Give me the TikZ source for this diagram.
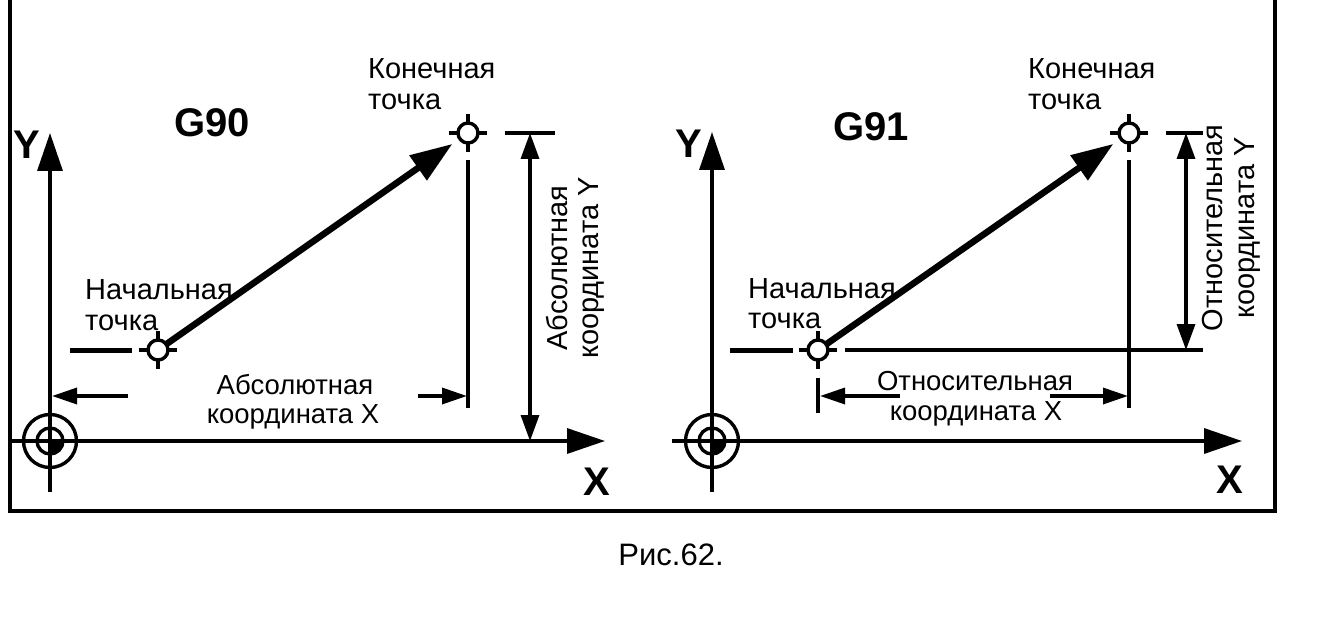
\documentclass[tikz,border=0pt]{standalone}
\usepackage{fontspec}
\setmainfont{Liberation Sans}
\usetikzlibrary{arrows.meta}
\begin{document}
\begin{tikzpicture}[x=1pt,y=-1pt,
  ln/.style={line width=3.4pt},
  frm/.style={line width=4pt},
  axis/.style={line width=3.4pt,-{Triangle[length=38pt,width=25pt]}},
  move/.style={line width=6.5pt,-{Triangle[length=42pt,width=29pt]},shorten >=9pt},
  dimarr/.style={line width=3.4pt,-{Triangle[length=25pt,width=16pt]}},
  dimdbl/.style={line width=3.4pt,{Triangle[length=26pt,width=18pt]}-{Triangle[length=26pt,width=18pt]}},
  ptc/.style={circle,draw,line width=3.4pt,fill=white,minimum size=20pt,inner sep=0pt,outer sep=0pt},
  lbl/.style={inner sep=0pt,font=\fontsize{29}{32}\selectfont},
  dlbl/.style={inner sep=0pt,font=\fontsize{27.5}{31}\selectfont},
  big/.style={inner sep=0pt,font=\bfseries\fontsize{40}{42}\selectfont},
]
\useasboundingbox (0,0) rectangle (1335,631);
% frame
\draw[frm] (10,-5) -- (10,511) -- (1275,511) -- (1275,-5);

% ================= left panel (G90) =================
\coordinate (o1) at (50,441);
\draw[axis] (10,441) -- (605,441);
\draw[axis] (50,492) -- (50,133);
\draw[ln] (o1) circle[radius=26.5];
\draw[ln] (o1) circle[radius=13];
\begin{scope}
  \clip (o1) circle[radius=13];
  \fill (o1) rectangle ++(15,15);
\end{scope}
\node[big] (Y1) at (27,145) {Y};
\node[big] (X1) at (597,482) {X};
\node[big] (G1) at (212,123) {G90};

\node[ptc] (s1) at (158,350) {};
\node[ptc] (e1) at (468,133) {};
\foreach \n in {s1,e1}{
  \draw[ln] (\n.north) -- ++(0,-9);
  \draw[ln] (\n.south) -- ++(0,9);
  \draw[ln] (\n.west) -- ++(-9,0);
  \draw[ln] (\n.east) -- ++(9,0);
}
\draw[move] (s1) -- (e1);
\draw[line width=5pt] (70,350) -- (132,350);
\draw[ln] (468,160) -- (468,408);
\draw[ln] (505,133) -- (555,133);
\draw[dimdbl] (530,133) -- (530,441);
\draw[dimarr] (128,396) -- (52,396);
\draw[dimarr] (418,396) -- (467,396);

\node[lbl,anchor=base west] (k1a) at (368,79) {Конечная};
\node[lbl,anchor=base west] (k1b) at (368,110) {точка};
\node[lbl,anchor=base west] (n1a) at (85,299) {Начальная};
\node[lbl,anchor=base west] (n1b) at (85,330) {точка};
\node[dlbl,anchor=base] (ax1a) at (295,394) {Абсолютная};
\node[dlbl,anchor=base] (ax1b) at (293,423) {координата X};
\node[lbl,anchor=base,rotate=90] (ay1a) at (567,268) {Абсолютная};
\node[lbl,anchor=base,rotate=90] (ay1b) at (598,268) {координата Y};

% ================= right panel (G91) =================
\coordinate (o2) at (712,441);
\draw[axis] (672,441) -- (1242,441);
\draw[axis] (712,492) -- (712,132);
\draw[ln] (o2) circle[radius=26.5];
\draw[ln] (o2) circle[radius=13];
\begin{scope}
  \clip (o2) circle[radius=13];
  \fill (o2) rectangle ++(15,15);
\end{scope}
\node[big] (Y2) at (689,144) {Y};
\node[big] (X2) at (1230,480) {X};
\node[big] (G2) at (871,127) {G91};

\node[ptc] (s2) at (818,350) {};
\node[ptc] (e2) at (1129,133) {};
\foreach \n in {s2,e2}{
  \draw[ln] (\n.north) -- ++(0,-9);
  \draw[ln] (\n.south) -- ++(0,9);
  \draw[ln] (\n.west) -- ++(-9,0);
  \draw[ln] (\n.east) -- ++(9,0);
}
\draw[move] (s2) -- (e2);
\draw[line width=5pt] (730,350) -- (793,350);
\draw[ln] (845,350) -- (1203,350);
\draw[ln] (818,378) -- (818,413);
\draw[ln] (1129,160) -- (1129,408);
\draw[ln] (1166,133) -- (1203,133);
\draw[dimdbl] (1186,133) -- (1186,350);
\draw[dimarr] (900,396) -- (820,396);
\draw[dimarr] (1050,396) -- (1128,396);

\node[lbl,anchor=base west] (k2a) at (1028,79) {Конечная};
\node[lbl,anchor=base west] (k2b) at (1028,110) {точка};
\node[lbl,anchor=base west] (n2a) at (748,298) {Начальная};
\node[lbl,anchor=base west] (n2b) at (748,328) {точка};
\node[dlbl,anchor=base] (ax2a) at (975,390) {Относительная};
\node[dlbl,anchor=base] (ax2b) at (976,420) {координата X};
\node[lbl,anchor=base,rotate=90] (ay2a) at (1222,228) {Относительная};
\node[lbl,anchor=base,rotate=90] (ay2b) at (1254,228) {координата Y};

% caption
\node[inner sep=0pt,font=\fontsize{31}{34}\selectfont,anchor=base] (cap) at (671,565) {Рис.62.};
\end{tikzpicture}
\end{document}
